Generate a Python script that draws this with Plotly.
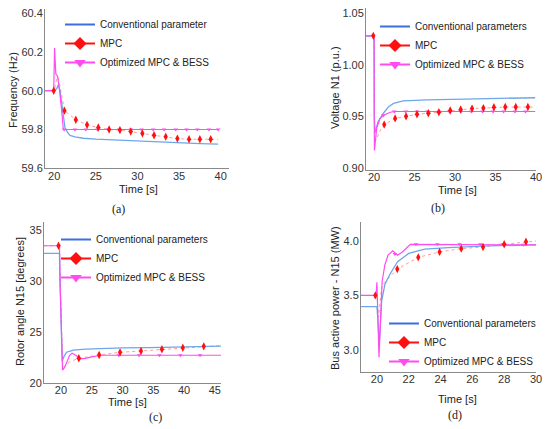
import plotly.graph_objects as go

# ---------------- (a) frequency ----------------
a_conv_t = [18.9, 20.0, 20.3, 20.5, 20.7, 20.9, 21.1, 21.3, 21.6, 21.9, 22.5, 23.5, 25.0, 27.5, 30.0, 32.5, 35.0, 37.5, 39.7]
a_conv_y = [60.0, 60.0, 60.01, 60.03, 60.0, 59.93, 59.86, 59.81, 59.785, 59.77, 59.762, 59.755, 59.75, 59.745, 59.74, 59.735, 59.73, 59.727, 59.725]
a_mpc_t = [18.9, 20.0, 20.3, 20.5, 20.8, 21.24, 22.6, 23.95, 25.3, 26.6, 27.9, 29.2, 30.6, 32.0, 33.4, 34.8, 36.2, 37.5, 38.8, 39.7]
a_mpc_y = [60.0, 60.0, 60.06, 60.07, 60.0, 59.897, 59.85, 59.824, 59.81, 59.80, 59.797, 59.79, 59.78, 59.77, 59.763, 59.753, 59.75, 59.75, 59.75, 59.75]
a_mpc_mt = [19.95, 21.24, 22.6, 23.95, 25.3, 26.6, 27.9, 29.2, 30.6, 32.0, 33.4, 34.8, 36.2, 37.5, 38.8]
a_mpc_my = [60.0, 59.897, 59.85, 59.824, 59.81, 59.80, 59.797, 59.79, 59.78, 59.77, 59.763, 59.753, 59.75, 59.75, 59.75]
a_opt_t = [18.9, 19.95, 20.05, 20.2, 20.4, 20.6, 20.9, 21.1, 21.5, 22.0, 39.7]
a_opt_y = [60.0, 60.0, 60.22, 60.087, 60.075, 60.02, 59.9, 59.8, 59.8, 59.8, 59.8]
a_opt_mt = [19.95, 21.2, 22.5, 23.8, 25.2, 26.5, 27.8, 29.2, 30.5, 31.9, 33.2, 34.6, 35.9, 37.2, 38.6, 39.7]
a_opt_my = [60.0, 59.8, 59.8, 59.8, 59.8, 59.8, 59.8, 59.8, 59.8, 59.8, 59.8, 59.8, 59.8, 59.8, 59.8, 59.8]

# ---------------- (b) voltage ----------------
b_conv_t = [19.0, 20.0, 20.03, 20.1, 20.5, 21.15, 21.8, 22.4, 23.6, 26.5, 32.7, 39.9]
b_conv_y = [1.028, 1.028, 0.95, 0.934, 0.945, 0.953, 0.9594, 0.9626, 0.965, 0.966, 0.967, 0.968]
b_mpc_t = [19.0, 20.0, 20.03, 20.1, 20.4, 20.8, 21.25, 22.6, 23.95, 25.3, 26.7, 28.0, 29.4, 30.7, 32.1, 33.5, 34.8, 36.2, 37.5, 39.0, 39.9]
b_mpc_y = [1.028, 1.028, 0.95, 0.925, 0.93, 0.937, 0.942, 0.948, 0.950, 0.952, 0.953, 0.954, 0.9557, 0.9566, 0.9575, 0.958, 0.9588, 0.959, 0.959, 0.959, 0.959]
b_mpc_mt = [19.9, 21.25, 22.6, 23.95, 25.3, 26.7, 28.0, 29.4, 30.7, 32.1, 33.5, 34.8, 36.2, 37.5, 39.0]
b_mpc_my = [1.028, 0.942, 0.948, 0.950, 0.952, 0.953, 0.954, 0.9557, 0.9566, 0.9575, 0.958, 0.9588, 0.959, 0.959, 0.959]
b_opt_t = [19.0, 20.0, 20.02, 20.04, 20.33, 20.74, 21.15, 22.0, 22.5, 39.9]
b_opt_y = [1.028, 1.028, 0.95, 0.917, 0.939, 0.948, 0.951, 0.954, 0.9547, 0.9547]
b_opt_mt = [19.9, 21.15, 22.5, 23.9, 25.3, 26.6, 28.0, 29.3, 30.7, 32.0, 33.4, 34.7, 36.0, 37.4, 38.7]
b_opt_my = [1.028, 0.951, 0.9547, 0.9547, 0.9547, 0.9547, 0.9547, 0.9547, 0.9547, 0.9547, 0.9547, 0.9547, 0.9547, 0.9547, 0.9547]

# ---------------- (c) rotor angle ----------------
c_conv_t = [17.2, 19.75, 19.85, 20.2, 20.5, 20.9, 21.5, 22.0, 24.0, 26.3, 30.0, 34.4, 40.0, 46.0]
c_conv_y = [32.74, 32.74, 30.0, 22.1, 22.6, 23.0, 23.12, 23.2, 23.3, 23.37, 23.42, 23.45, 23.52, 23.6]
c_mpc_t = [17.2, 19.75, 19.85, 20.3, 20.7, 21.5, 22.9, 26.2, 29.6, 33.0, 36.4, 39.8, 43.2, 46.0]
c_mpc_y = [33.48, 33.48, 30.0, 21.5, 21.7, 22.1, 22.4, 22.73, 22.99, 23.12, 23.3, 23.44, 23.58, 23.65]
c_mpc_mt = [19.6, 22.9, 26.2, 29.6, 33.0, 36.4, 39.8, 43.2]
c_mpc_my = [33.48, 22.4, 22.73, 22.99, 23.12, 23.3, 23.44, 23.58]
c_opt_t = [17.2, 19.75, 19.85, 20.25, 20.6, 21.0, 21.4, 21.8, 22.4, 23.1, 24.0, 25.0, 26.5, 46.0]
c_opt_y = [33.48, 33.48, 30.0, 21.25, 21.5, 22.2, 22.7, 22.9, 22.7, 22.35, 22.4, 22.55, 22.7, 22.7]
c_opt_mt = [19.6, 22.9, 26.2, 29.4, 32.7, 36.0, 39.4, 42.6]
c_opt_my = [33.48, 22.35, 22.7, 22.7, 22.7, 22.7, 22.7, 22.7]

# ---------------- (d) bus active power ----------------
d_conv_t = [19.0, 20.0, 20.05, 20.15, 20.3, 20.5, 20.8, 21.3, 22.0, 23.0, 24.5, 27.0, 30.0]
d_conv_y = [3.396, 3.396, 3.3, 3.05, 3.45, 3.6, 3.69, 3.81, 3.886, 3.926, 3.94, 3.955, 3.965]
d_mpc_t = [19.0, 20.0, 20.1, 20.3, 20.6, 21.28, 22.6, 23.94, 25.3, 26.67, 28.0, 29.37, 30.0]
d_mpc_y = [3.5, 3.5, 3.3, 3.58, 3.64, 3.742, 3.85, 3.9, 3.93, 3.945, 3.97, 3.994, 4.0]
d_mpc_mt = [19.9, 21.28, 22.6, 23.94, 25.3, 26.67, 28.0, 29.37]
d_mpc_my = [3.5, 3.742, 3.85, 3.9, 3.93, 3.945, 3.97, 3.994]
d_opt_t = [19.0, 19.95, 20.0, 20.13, 20.33, 20.5, 20.7, 21.0, 21.3, 21.6, 22.1, 30.0]
d_opt_y = [3.5, 3.5, 3.62, 2.93, 3.63, 3.78, 3.87, 3.91, 3.87, 3.9, 3.97, 3.965]
d_opt_mt = [19.92, 21.13, 22.45, 23.8, 25.2, 26.5, 27.9, 29.2]
d_opt_my = [3.5, 3.88, 3.97, 3.97, 3.97, 3.97, 3.97, 3.965]

BLUE = "#6ea6ea"
BLUE_LEG = "#3b6fdd"
RED = "#ff1010"
RED_LINE = "#ff9a9a"
PINK = "#ff4cf0"
FONT = "Liberation Sans, Arial, sans-serif"

fig = go.Figure()


def add_panel(n, conv, mpc, opt, conv_name):
    sfx = "" if n == 1 else str(n)
    xa, ya = "x" + sfx, "y" + sfx
    leg = "legend" + sfx
    ct, cy = conv
    mt, my, mmt, mmy = mpc
    ot, oy, omt, omy = opt
    fig.add_trace(go.Scatter(x=mt, y=my, mode="lines", xaxis=xa, yaxis=ya,
                             line=dict(color=RED_LINE, width=1, dash="dot"),
                             showlegend=False))
    fig.add_trace(go.Scatter(x=ct, y=cy, mode="lines", xaxis=xa, yaxis=ya,
                             line=dict(color=BLUE, width=1.3),
                             showlegend=False))
    fig.add_trace(go.Scatter(x=ot, y=oy, mode="lines", xaxis=xa, yaxis=ya,
                             line=dict(color=PINK, width=1.2),
                             showlegend=False))
    fig.add_trace(go.Scatter(x=omt, y=omy, mode="markers", xaxis=xa, yaxis=ya,
                             marker=dict(symbol="triangle-down", size=4, color=PINK),
                             showlegend=False))
    fig.add_trace(go.Scatter(x=mmt, y=mmy, mode="markers", xaxis=xa, yaxis=ya,
                             marker=dict(symbol="diamond-tall", size=6, color=RED),
                             showlegend=False))
    # legend entries
    fig.add_trace(go.Scatter(x=[None], y=[None], mode="lines", xaxis=xa, yaxis=ya,
                             name=conv_name, legend=leg,
                             line=dict(color=BLUE_LEG, width=2)))
    fig.add_trace(go.Scatter(x=[None], y=[None], mode="lines+markers", xaxis=xa, yaxis=ya,
                             name="MPC", legend=leg,
                             line=dict(color=RED, width=2),
                             marker=dict(symbol="diamond", size=10, color=RED)))
    fig.add_trace(go.Scatter(x=[None], y=[None], mode="lines+markers", xaxis=xa, yaxis=ya,
                             name="Optimized MPC & BESS", legend=leg,
                             line=dict(color=PINK, width=2),
                             marker=dict(symbol="triangle-down", size=10, color=PINK)))


add_panel(1, (a_conv_t, a_conv_y), (a_mpc_t, a_mpc_y, a_mpc_mt, a_mpc_my),
          (a_opt_t, a_opt_y, a_opt_mt, a_opt_my), "Conventional parameter")
add_panel(2, (b_conv_t, b_conv_y), (b_mpc_t, b_mpc_y, b_mpc_mt, b_mpc_my),
          (b_opt_t, b_opt_y, b_opt_mt, b_opt_my), "Conventional parameters")
add_panel(3, (c_conv_t, c_conv_y), (c_mpc_t, c_mpc_y, c_mpc_mt, c_mpc_my),
          (c_opt_t, c_opt_y, c_opt_mt, c_opt_my), "Conventional parameters")
add_panel(4, (d_conv_t, d_conv_y), (d_mpc_t, d_mpc_y, d_mpc_mt, d_mpc_my),
          (d_opt_t, d_opt_y, d_opt_mt, d_opt_my), "Conventional parameters")

# the page body has an 8 px margin, so the figure is drawn 8 px in from the window edge
OFF = 8
W, H = 550 - OFF, 429 - OFF


def px_x(v):
    return (v - OFF) / W


def px_y(v):
    return 1 - (v - OFF) / H


axis_style = dict(showgrid=False, zeroline=False, showline=True, linecolor="#8a8a8a",
                  linewidth=1, ticks="", automargin=False, ticklabeloverflow="allow",
                  tickfont=dict(size=11, color="#333333", family=FONT))
xstyle = dict(ticklabelstandoff=-3, **axis_style)
ystyle = dict(ticklabelstandoff=-1, **axis_style)

fig.update_layout(
    xaxis=dict(domain=[px_x(45), px_x(229)], range=[18.9, 41.0], anchor="y",
               tickvals=[20, 25, 30, 35, 40], **xstyle),
    yaxis=dict(domain=[px_y(168.3), px_y(9.2)], range=[59.6, 60.42], anchor="x",
               tickvals=[59.6, 59.8, 60.0, 60.2, 60.4], tickformat=".1f", **ystyle),
    xaxis2=dict(domain=[px_x(366), px_x(536)], range=[19.0, 40.0], anchor="y2",
                tickvals=[20, 25, 30, 35, 40], **xstyle),
    yaxis2=dict(domain=[px_y(170), px_y(8.2)], range=[0.898, 1.0548], anchor="x2",
                tickvals=[0.90, 0.95, 1.00, 1.05], tickformat=".2f", **ystyle),
    xaxis3=dict(domain=[px_x(44), px_x(221)], range=[17.24, 46.0], anchor="y3",
                tickvals=[20, 25, 30, 35, 40, 45], **xstyle),
    yaxis3=dict(domain=[px_y(382.7), px_y(221.7)], range=[20, 35.85], anchor="x3",
                tickvals=[20, 25, 30, 35], **ystyle),
    xaxis4=dict(domain=[px_x(361), px_x(536)], range=[19.0, 30.0], anchor="y4",
                tickvals=[20, 22, 24, 26, 28, 30], **xstyle),
    yaxis4=dict(domain=[px_y(371.7), px_y(221.7)], range=[2.798, 4.178], anchor="x4",
                tickvals=[3.0, 3.5, 4.0], tickformat=".1f", **ystyle),
    width=W, height=H,
    margin=dict(l=0, r=0, t=0, b=0),
    paper_bgcolor="white", plot_bgcolor="white",
    font=dict(family=FONT, size=11, color="#222222"),
)

leg_style = dict(xanchor="left", yanchor="top", bgcolor="rgba(0,0,0,0)",
                 font=dict(size=10, color="#222222", family=FONT))
fig.update_layout(
    legend=dict(x=px_x(60), y=px_y(10), **leg_style),
    legend2=dict(x=px_x(375), y=px_y(12), **leg_style),
    legend3=dict(x=px_x(56), y=px_y(225), **leg_style),
    legend4=dict(x=px_x(384), y=px_y(309), **leg_style),
)

# axis titles and captions
labels = [
    ("Time [s]", 138, 189, 0),
    ("Time [s]", 457, 190, 0),
    ("Time [s]", 127, 401.5, 0),
    ("Time [s]", 457, 398.5, 0),
    ("Frequency (Hz)", 13, 90, -90),
    ("Voltage N1 (p.u.)", 335, 88, -90),
    ("Rotor angle N15 [degrees]", 20, 302, -90),
    ("Bus active power - N15 (MW)", 335, 298, -90),
]
for text, x, y, ang in labels:
    fig.add_annotation(text=text, x=px_x(x), y=px_y(y), xref="paper", yref="paper",
                       showarrow=False, textangle=ang, xanchor="center", yanchor="middle",
                       font=dict(size=11, color="#222222", family=FONT))

captions = [("(a)", 118, 209), ("(b)", 438, 208), ("(c)", 155, 416.7), ("(d)", 455, 415)]
for text, x, y in captions:
    fig.add_annotation(text=text, x=px_x(x), y=px_y(y), xref="paper", yref="paper",
                       showarrow=False, xanchor="center", yanchor="middle",
                       font=dict(size=12, color="#222222", family="Liberation Serif, serif"))

fig.write_html("out.html")
